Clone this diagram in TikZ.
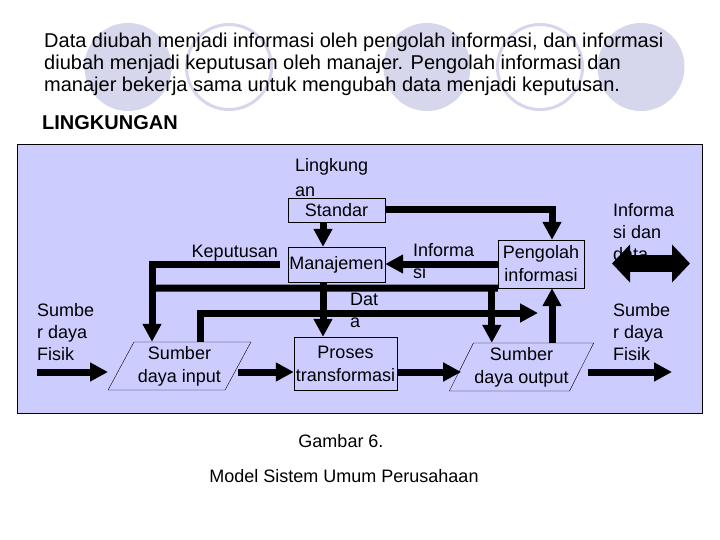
\documentclass[tikz,border=0pt]{standalone}
\usepackage{fontspec}
\setmainfont{Liberation Sans}
\usepackage{tikz}
\usetikzlibrary{positioning,shapes.geometric,arrows.meta,calc}
\definecolor{panelblue}{RGB}{204,204,255}
\definecolor{decolav}{RGB}{214,214,236}

\begin{document}
\begin{tikzpicture}[x=1pt,y=-1pt,
    box/.style={draw, thin, fill=panelblue, inner sep=1pt, align=center,
                font=\fontsize{18}{23}\selectfont},
    para/.style={box, trapezium, trapezium left angle=60,
                 trapezium right angle=120, trapezium stretches=true,
                 minimum width=143pt, minimum height=48pt},
    lbl/.style={inner sep=0pt, align=left, anchor=north west,
                font=\fontsize{18}{22}\selectfont},
    flow/.style={line width=7pt, -{Triangle[length=18pt,width=18pt]}},
    bar/.style={line width=7pt}
  ]
  \fill[white] (0,0) rectangle (720,540);
  \useasboundingbox (0,0) rectangle (720,540);
  % slide decoration
  \foreach \cx in {128,427,641}
    \fill[decolav] (\cx,67) ellipse (43.5pt and 44pt);
  \foreach \cx in {229,540}
    \draw[decolav, line width=3pt, fill=white] (\cx,67) ellipse (42.5pt and 42.5pt);
  \node[anchor=north west, inner sep=0pt, align=left,
        font=\fontsize{20}{22}\selectfont] (intro) at (44,33)
    {Data diubah menjadi informasi oleh pengolah informasi, dan informasi\\
     diubah menjadi keputusan oleh manajer. Pengolah informasi dan\\
     manajer bekerja sama untuk mengubah data menjadi keputusan.};
  \node[anchor=base west, inner sep=0pt, font=\fontsize{20}{24}\selectfont\bfseries]
    (env) at (42,130) {LINGKUNGAN};
  % panel
  \draw[thin, fill=panelblue] (17,144) rectangle (702,413);
  % boxes
  \node[box, minimum width=97pt, minimum height=24pt] (std) at (336.5,210) {Standar};
  \node[box, minimum width=97pt, minimum height=35pt] (mgr) at (336.5,264.5) {Manajemen};
  \node[box, minimum width=86pt, minimum height=48pt] (pgl) at (541,264) {Pengolah\\informasi};
  \node[box, minimum width=103pt, minimum height=53pt] (prc) at (345.5,363.5) {Proses\\transformasi};
  \node[para] (inp) at (179.5,366) {Sumber\\daya input};
  \node[para] (out) at (521.5,367) {Sumber\\daya output};
  % labels
  \node[lbl, font=\fontsize{18}{25}\selectfont] (lingk) at (295,158) {Lingkung\\an};
  \node[lbl, anchor=north east] (kep) at (278,245) {Keputusan};
  \node[lbl] (info) at (413,243) {Informa\\si};
  \node[lbl] (dat) at (350,293) {Dat\\a};
  \node[lbl] (srcL) at (37,303) {Sumbe\\r daya\\Fisik};
  \node[lbl] (srcR) at (613,303) {Sumbe\\r daya\\Fisik};
  \node[lbl] (infdat) at (613,203) {Informa\\si dan\\data};
  % free ends
  \coordinate (kjoin) at (152,288);
  \coordinate (dend) at (538,313);
  \coordinate (inL) at (37,372);
  \coordinate (inR) at (108,372);
  \coordinate (outL) at (588,372);
  \coordinate (outR) at (672,372);
  \coordinate (xL) at (612,263.5);
  \coordinate (xR) at (690,263.5);
  % Standar to Manajemen and Pengolah
  \draw[flow] ([xshift=-13.5pt]std.south) -- ([xshift=-13.5pt]mgr.north);
  \draw[flow] (std.east) -| ([xshift=11pt]pgl.north);
  % informasi back to Manajemen
  \draw[flow] (pgl.west) -- (pgl.west -| mgr.east);
  % Keputusan to both resources
  \draw[flow] ([xshift=-8pt]mgr.west) -| (kjoin |- inp.north);
  \draw[bar] (kjoin) -- (pgl.south west);
  \draw[flow] ([xshift=-6pt]pgl.south west) -- ([xshift=-6pt]pgl.south west |- out.north);
  \draw[flow] ([xshift=-13.5pt]mgr.south) -- ([xshift=-13.5pt]mgr.south |- prc.north);
  % Data
  \draw[flow] ([xshift=20.5pt]inp.north) |- (dend);
  \draw[flow] ([xshift=11pt]pgl.south |- out.north) -- ([xshift=11pt]pgl.south);
  % physical flow
  \draw[flow] (inL) -- (inR);
  \draw[flow] ([yshift=-6pt]inp.east) -- ([yshift=-6pt]inp.east -| prc.west);
  \draw[flow] ([yshift=-8.5pt]prc.east) -- ([yshift=-8.5pt]prc.east -| out.west);
  \draw[flow] (outL) -- (outR);
  % information and data exchange
  \draw[line width=17pt, {Triangle[length=18pt,width=37pt]}-{Triangle[length=18pt,width=37pt]}]
    (xL) -- (xR);
  % caption
  \node[anchor=base, inner sep=0pt, font=\fontsize{18}{22}\selectfont] (fig) at (341,447) {Gambar 6.};
  \node[anchor=base, inner sep=0pt, font=\fontsize{18}{22}\selectfont] (figttl) at (344,482)
    {Model Sistem Umum Perusahaan};
\end{tikzpicture}
\end{document}
